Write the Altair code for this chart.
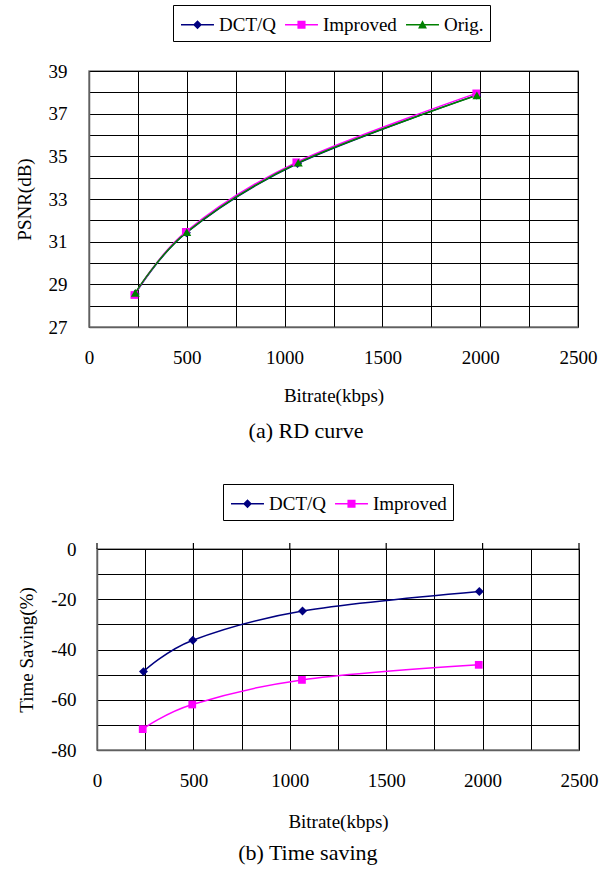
import altair as alt
import pandas as pd

FONT = "Liberation Serif"

# ---------------- data ----------------
SERIES_A = ["DCT/Q", "Improved", "Orig."]
SERIES_B = ["DCT/Q", "Improved"]

# (a) RD curve
dct_rate_a = [236, 498, 1066, 1982]
dct_psnr = [28.55, 31.42, 34.66, 37.87]
imp_rate_a = [232, 495, 1060, 1980]
imp_psnr = [28.50, 31.46, 34.72, 37.95]
orig_rate_a = [237, 500, 1070, 1983]
orig_psnr = [28.60, 31.45, 34.70, 37.86]

# (b) Time saving
dct_rate_b = [241, 497, 1066, 1983]
dct_saving = [-48.8, -36.3, -24.7, -16.9]
imp_rate_b = [237, 494, 1063, 1980]
imp_saving = [-71.7, -61.9, -52.1, -46.1]

X_TICKS = [0, 250, 500, 750, 1000, 1250, 1500, 1750, 2000, 2250, 2500]
X_LABELED = [0, 500, 1000, 1500, 2000, 2500]
PSNR_TICKS = [27, 28, 29, 30, 31, 32, 33, 34, 35, 36, 37, 38, 39]
SAVING_TICKS = [-80, -70, -60, -50, -40, -30, -20, -10, 0]

# ---------------- styles ----------------
COLORS = {"DCT/Q": "#000080", "Improved": "#FF00FF", "Orig.": "#008000"}
MARKERS = {"DCT/Q": "diamond", "Improved": "square", "Orig.": "triangle-up"}
MARKER_SIZES = {"DCT/Q": 80, "Improved": 60, "Orig.": 80}
_LINE = "M-0.85,-0.055H1.59V0.055H-0.85Z "
LEGEND_GLYPHS = {
    "DCT/Q": _LINE + "M0.37,-0.33L0.70,0L0.37,0.33L0.04,0Z",
    "Improved": _LINE + "M0.07,-0.3H0.67V0.3H0.07Z",
    "Orig.": _LINE + "M0.37,-0.34L0.70,0.27L0.04,0.27Z",
}


def long_frame(parts, yname):
    rows = []
    for name, rates, vals in parts:
        for r, v in zip(rates, vals):
            rows.append({"series": name, "bitrate": r, yname: v})
    return pd.DataFrame(rows)


df_a = long_frame([("DCT/Q", dct_rate_a, dct_psnr),
                   ("Improved", imp_rate_a, imp_psnr),
                   ("Orig.", orig_rate_a, orig_psnr)], "psnr")
df_b = long_frame([("DCT/Q", dct_rate_b, dct_saving),
                   ("Improved", imp_rate_b, imp_saving)], "saving")


def make_panel(df, series, yfield, ydomain, yticks, ylab_expr, ytitle, caption,
               legend_x, legend_y, width, height, top_ticks,
               ylabel_pad, ytitle_pad, caption_offset, xtitle_pad):
    color_scale = alt.Scale(domain=series, range=[COLORS[s] for s in series])
    x_scale = alt.Scale(domain=[0, 2500], nice=False, zero=False)
    y_scale = alt.Scale(domain=ydomain, nice=False, zero=False)

    x_axis = alt.Axis(values=X_TICKS,
                      labelExpr="datum.value % 500 == 0 ? '' + datum.value : ''",
                      grid=True, ticks=False, labelPadding=21, titlePadding=xtitle_pad,
                      labelFlush=False, labelFont=FONT, titleFont=FONT,
                      labelFontSize=19, titleFontSize=19, titleFontWeight="normal")
    y_axis = alt.Axis(values=yticks, labelExpr=ylab_expr, grid=True, ticks=False,
                      labelPadding=ylabel_pad, titlePadding=ytitle_pad,
                      labelFont=FONT, titleFont=FONT,
                      labelFontSize=19, titleFontSize=19, titleFontWeight="normal")

    x_enc = alt.X("bitrate:Q", scale=x_scale, axis=x_axis, title="Bitrate(kbps)")
    y_enc = alt.Y(f"{yfield}:Q", scale=y_scale, axis=y_axis, title=ytitle)

    base = alt.Chart(df)

    legend = alt.Legend(title=None, orient="none", legendX=legend_x, legendY=legend_y,
                        direction="horizontal", strokeColor="black", fillColor="white",
                        padding=6, symbolSize=729, symbolStrokeWidth=0, symbolOpacity=1,
                        labelFont=FONT, labelFontSize=19, labelColor="black",
                        labelOffset=13, columnPadding=7, labelLimit=0)
    legend_layer = base.mark_point(filled=True, opacity=0).encode(
        x=x_enc, y=y_enc,
        color=alt.Color("series:N", scale=color_scale, legend=legend),
        shape=alt.Shape("series:N",
                        scale=alt.Scale(domain=series,
                                        range=[LEGEND_GLYPHS[s] for s in series]),
                        legend=legend),
    )
    layers = [legend_layer]

    if top_ticks:
        tick_df = pd.DataFrame({"bitrate": X_LABELED, yfield: [ydomain[1]] * len(X_LABELED)})
        ticks = alt.Chart(tick_df).mark_tick(
            orient="vertical", size=6, thickness=1.2, color="black", yOffset=-3, opacity=1
        ).encode(x=x_enc, y=y_enc)
        layers.append(ticks)

    for s in series:
        sub = base.transform_filter(alt.datum.series == s)
        layers.append(sub.mark_line(interpolate="cardinal", strokeWidth=1.5,
                                    color=COLORS[s]).encode(x=x_enc, y=y_enc))
    for s in series:
        sub = base.transform_filter(alt.datum.series == s)
        layers.append(sub.mark_point(filled=True, shape=MARKERS[s], size=MARKER_SIZES[s],
                                     opacity=1, color=COLORS[s]).encode(x=x_enc, y=y_enc))

    return alt.layer(*layers).properties(
        width=width, height=height,
        title=alt.TitleParams(text=caption, orient="bottom", frame="bounds",
                              anchor="middle", font=FONT, fontSize=22,
                              fontWeight="normal", color="black", offset=caption_offset),
    )


def spacer(w):
    return alt.Chart(pd.DataFrame({"v": []})).mark_point().properties(
        width=w, height=1, view=alt.ViewBackground(strokeOpacity=0))


chart_a = make_panel(df_a, SERIES_A, "psnr", [27, 39], PSNR_TICKS,
                     "datum.value % 2 == 1 ? '' + datum.value : ''", "PSNR(dB)",
                     "(a) RD curve", 84, -66, 489, 256, False, 22, 14, 16, 19)
chart_b = make_panel(df_b, SERIES_B, "saving", [-80, 0], SAVING_TICKS,
                     "datum.value % 20 == 0 ? '' + datum.value : ''", "Time Saving(%)",
                     "(b) Time saving", 126, -65, 482, 201, True, 21, 14, 12, 22)

row_a = alt.hconcat(spacer(14), chart_a, spacing=0).resolve_scale(
    color="independent", shape="independent")
row_b = alt.hconcat(spacer(16), chart_b, spacing=0).resolve_scale(
    color="independent", shape="independent")

chart = alt.vconcat(row_a, row_b, spacing=39).resolve_scale(
    color="independent", shape="independent"
).resolve_legend(
    color="independent", shape="independent"
).properties(
    padding={"left": 0, "top": 3, "right": 5, "bottom": 2},
    background="white",
).configure(
    font=FONT
).configure_view(
    stroke="#808080", strokeWidth=1.5
).configure_axis(
    labelFont=FONT, titleFont=FONT, labelColor="black", titleColor="black",
    labelFontSize=19, titleFontSize=19, titleFontWeight="normal",
    domainColor="#606060", domainWidth=1.5, gridColor="black", gridOpacity=1,
    gridWidth=1,
).configure_legend(
    labelFont=FONT
)

chart.save("out.html", embed_options={"renderer": "svg", "actions": False})
